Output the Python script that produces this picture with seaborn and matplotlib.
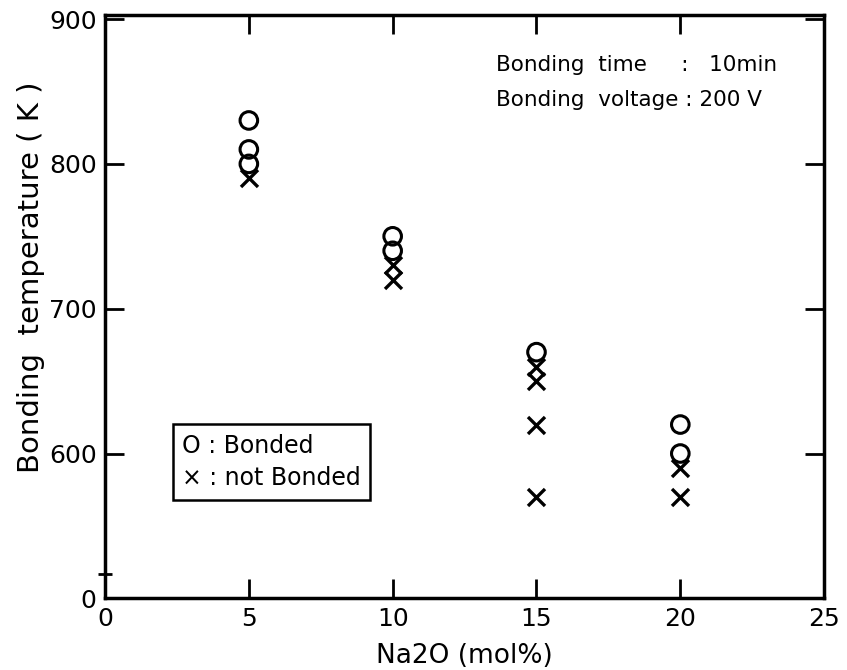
import matplotlib
matplotlib.use('Agg')
import matplotlib.pyplot as plt
import seaborn as sns
import pandas as pd

# --- data ---
bonded_na2o = [5, 5, 5, 10, 10, 15, 20, 20]
bonded_temp = [830, 810, 800, 750, 740, 670, 620, 600]
notbonded_na2o = [5, 10, 10, 15, 15, 15, 15, 20, 20]
notbonded_temp = [790, 730, 720, 660, 650, 620, 570, 590, 570]

x_ticks = [0, 5, 10, 15, 20, 25]
y_ticks = [500, 600, 700, 800, 900]
y_ticklabels = ['0', '600', '700', '800', '900']

df_b = pd.DataFrame({'na2o': bonded_na2o, 'temp': bonded_temp})
df_n = pd.DataFrame({'na2o': notbonded_na2o, 'temp': notbonded_temp})

sns.set_style('white')
plt.rcParams['font.family'] = ['DejaVu Sans']
plt.rcParams['text.color'] = 'black'
plt.rcParams['axes.labelcolor'] = 'black'
plt.rcParams['xtick.color'] = 'black'
plt.rcParams['ytick.color'] = 'black'

fig = plt.figure(figsize=(8.47, 6.7), dpi=100)
ax = fig.add_axes([0.124, 0.107, 0.849, 0.871])

sns.scatterplot(data=df_b, x='na2o', y='temp', marker='o', s=160,
                facecolors='none', edgecolor='black', linewidth=2.2, ax=ax)
sns.scatterplot(data=df_n, x='na2o', y='temp', marker='x', s=150,
                color='black', linewidth=2.4, ax=ax)

ax.set_xlim(0, 25)
ax.set_ylim(500, 903)
ax.set_xticks(x_ticks)
ax.set_yticks(y_ticks)
ax.set_yticklabels(y_ticklabels)
ax.tick_params(direction='in', length=14, width=2, labelsize=18, pad=6,
               top=True, right=True, left=True, bottom=True)
# small break mark on the y axis
ax.set_yticks([517], minor=True)
ax.tick_params(axis='y', which='minor', direction='inout', length=10, width=2,
               left=True, right=False)

for sp in ax.spines.values():
    sp.set_linewidth(2.5)
    sp.set_color('black')

ax.set_xlabel('Na2O (mol%)', fontsize=19, labelpad=9)
ax.set_ylabel('Bonding  temperature ( K )', fontsize=21)
ax.yaxis.set_label_coords(-0.083, 0.55)

ax.text(0.543, 0.903, 'Bonding  time     :   10min', transform=ax.transAxes, fontsize=15.5)
ax.text(0.543, 0.843, 'Bonding  voltage : 200 V', transform=ax.transAxes, fontsize=15.5)

ax.text(0.107, 0.185, 'O : Bonded\n× : not Bonded', transform=ax.transAxes,
        fontsize=17, linespacing=1.45, va='bottom',
        bbox=dict(boxstyle='square,pad=0.4', facecolor='white', edgecolor='black', linewidth=1.8))

plt.savefig('out.png', dpi=100)
plt.close()
